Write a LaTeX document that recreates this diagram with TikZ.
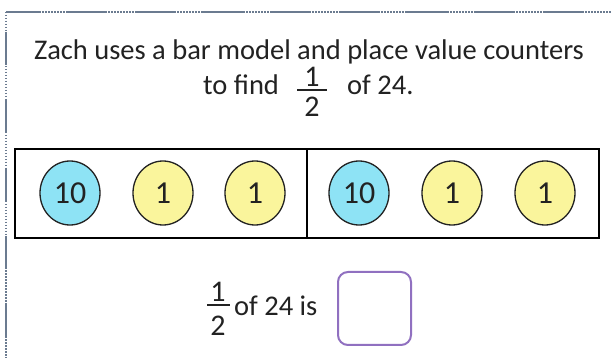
\documentclass[tikz,border=0pt]{standalone}
\usepackage{fontspec}
\setmainfont{Carlito}
\usetikzlibrary{shapes.geometric}
\definecolor{frameline}{HTML}{6B7B90}
\definecolor{tenblue}{HTML}{8EE3F5}
\definecolor{oneyellow}{HTML}{FAF59C}
\definecolor{boxpurple}{HTML}{9070C0}
\definecolor{ink}{HTML}{222222}
\tikzset{
  txt/.style={inner sep=0pt, text=ink, font=\fontsize{28.5}{34}\selectfont},
  fracdigit/.style={txt, font=\fontsize{30}{34}\selectfont},
  framesolid/.style={draw=frameline, line width=1.5pt},
  framedots/.style={draw=frameline, line width=1.5pt, dash pattern=on 1.5pt off 1.5pt},
  halfbox/.style={draw=black, line width=2.2pt, minimum width=292pt, minimum height=89pt, inner sep=0pt},
  counter/.style={ellipse, draw=ink, line width=1.3pt, minimum width=60pt, minimum height=64pt, inner sep=0pt, text=ink, font=\fontsize{32}{36}\selectfont},
  tencounter/.style={counter, fill=tenblue},
  onecounter/.style={counter, fill=oneyellow},
  fracbar/.style={draw=ink, line width=1.4pt},
  answerbox/.style={draw=boxpurple, line width=2pt, rounded corners=10pt, minimum width=73pt, minimum height=73pt, inner sep=0pt}
}
\begin{document}
\begin{tikzpicture}[x=1pt,y=-1pt]
\useasboundingbox (0,0) rectangle (611,358);
\fill[white] (0,0) rectangle (611,358);
% frame
\coordinate (tl) at (6,12);
\coordinate (tr) at (611,12);
\coordinate (bl) at (6,358);
\draw[framesolid, dash pattern=on 40pt off 28pt, dash phase=7pt] (tl) -- (tr);
\draw[framedots] (tl) -- (tr);
\draw[framesolid, dash pattern=on 33pt off 35pt, dash phase=48pt] (tl) -- (bl);
\draw[framedots] (tl) -- (bl);
% title
\node[txt, anchor=base] (t1) at (309,60) {Zach uses a bar model and place value counters};
\node[txt, anchor=base west] (tofind) at (203,95) {to find};
\node[fracdigit, anchor=base] (n1) at (312,87) {1};
\node[fracdigit, anchor=base] (d1) at (312,117) {2};
\coordinate (fa1) at (297,90);
\coordinate (fb1) at (327,90);
\draw[fracbar] (fa1) -- (fb1);
\node[txt, anchor=base west] (of24) at (347,95) {of 24.};
% bar model
\node[halfbox] (lefthalf) at (161,193.5) {};
\node[halfbox] (righthalf) at (453,193.5) {};
\node[tencounter] (c1) at (70,193) {10};
\node[onecounter] (c2) at (163,193) {1};
\node[onecounter] (c3) at (255,193) {1};
\node[tencounter] (c4) at (359,193) {10};
\node[onecounter] (c5) at (452,193) {1};
\node[onecounter] (c6) at (545,193) {1};
% answer line
\node[fracdigit, anchor=base] (n2) at (218,302) {1};
\node[fracdigit, anchor=base] (d2) at (218,335) {2};
\coordinate (fa2) at (207,305);
\coordinate (fb2) at (230,305);
\draw[fracbar] (fa2) -- (fb2);
\node[txt, anchor=base west] (of24is) at (234,316) {of 24 is};
\node[answerbox] (ans) at (374.5,308.5) {};
\end{tikzpicture}
\end{document}
